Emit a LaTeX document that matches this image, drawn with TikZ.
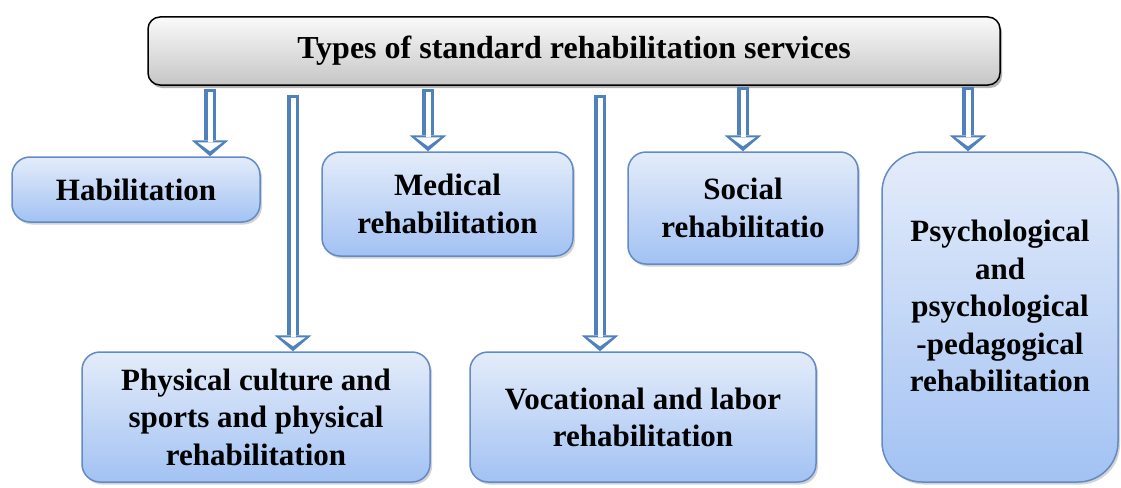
\documentclass[tikz,border=0pt]{standalone}
\usepackage{fontspec}
\setmainfont{Liberation Serif}
\usetikzlibrary{arrows.meta,shadows}

\definecolor{boxBorder}{RGB}{98,138,198}
\definecolor{boxTop}{RGB}{228,236,250}
\definecolor{boxBottom}{RGB}{162,194,243}
\definecolor{arrowBlue}{RGB}{79,129,189}

\begin{document}
\begin{tikzpicture}[x=1pt,y=1pt,
        heading/.style={
            % The shape
            rectangle,
            rounded corners=12pt,
            minimum width=852pt,
            minimum height=68pt,
            % The border
            line width=1.5pt,
            draw = black,
            % The color
            top color = gray!4,
            bottom color = gray!45,
            drop shadow={shadow xshift=2pt,shadow yshift=-3pt,opacity=0.6},
            % Font
            font = \fontsize{32}{38}\selectfont\bfseries
        },
        service/.style={
            % The shape
            rectangle,
            rounded corners=18pt,
            inner sep=0pt,
            align=center,
            % The border
            line width=1.5pt,
            draw = boxBorder,
            % The color
            top color = boxTop,
            bottom color = boxBottom,
            drop shadow={shadow xshift=2pt,shadow yshift=-2.5pt,opacity=0.35},
            % Font
            font = \fontsize{31}{37.5}\selectfont\bfseries
        },
        hollow/.style={
            % The inner white part
            draw = white,
            line width=5pt,
            shorten <=3.5pt,
            shorten >=5pt,
            -{Triangle[length=9pt,width=25pt,line width=0pt]},
            % The blue outline
            preaction={draw=arrowBlue,line width=12pt,shorten <=0pt,shorten >=0pt,
                -{Triangle[length=16pt,width=37pt,line width=0pt]}}
        },
    ]
        \useasboundingbox (0,0) rectangle (1121,-487);

        \node (title) [heading] at (574,-51) {Types of standard rehabilitation services};

        \node (habilitation) [service,minimum width=248pt,minimum height=65pt] at (136,-189.5) {Habilitation};
        \node (medical) [service,minimum width=251pt,minimum height=104pt] at (447.5,-204) {Medical\\rehabilitation};
        \node (social) [service,minimum width=230pt,minimum height=112pt] at (743,-208) {Social\\rehabilitatio};
        \node (psychological) [service,rounded corners=40pt,minimum width=236pt,minimum height=330pt,text depth=22pt] at (1000,-317) {Psychological\\and\\psychological\\-pedagogical\\rehabilitation};
        \node (physical) [service,minimum width=348pt,minimum height=130pt,text depth=-16pt] at (256,-417) {Physical culture and\\sports and physical\\rehabilitation};
        \node (vocational) [service,minimum width=346pt,minimum height=130pt,text depth=-12pt] at (643,-417) {Vocational and labor\\rehabilitation};

        % arrow columns
        \coordinate (colHab) at (210,0);
        \coordinate (colPhy) at (293,0);
        \coordinate (colMed) at (428,0);
        \coordinate (colVoc) at (600,0);
        \coordinate (colSoc) at (743,0);
        \coordinate (colPsy) at (968,0);

        \draw[hollow] ([yshift=-3pt]title.south -| colHab) -- (habilitation.north -| colHab);
        \draw[hollow] ([yshift=-9pt]title.south -| colPhy) -- (physical.north -| colPhy);
        \draw[hollow] ([yshift=-3pt]title.south -| colMed) -- (medical.north -| colMed);
        \draw[hollow] ([yshift=-9pt]title.south -| colVoc) -- (vocational.north -| colVoc);
        \draw[hollow] ([yshift=-1pt]title.south -| colSoc) -- (social.north -| colSoc);
        \draw[hollow] ([yshift=-1pt]title.south -| colPsy) -- (psychological.north -| colPsy);

    \end{tikzpicture}
\end{document}
